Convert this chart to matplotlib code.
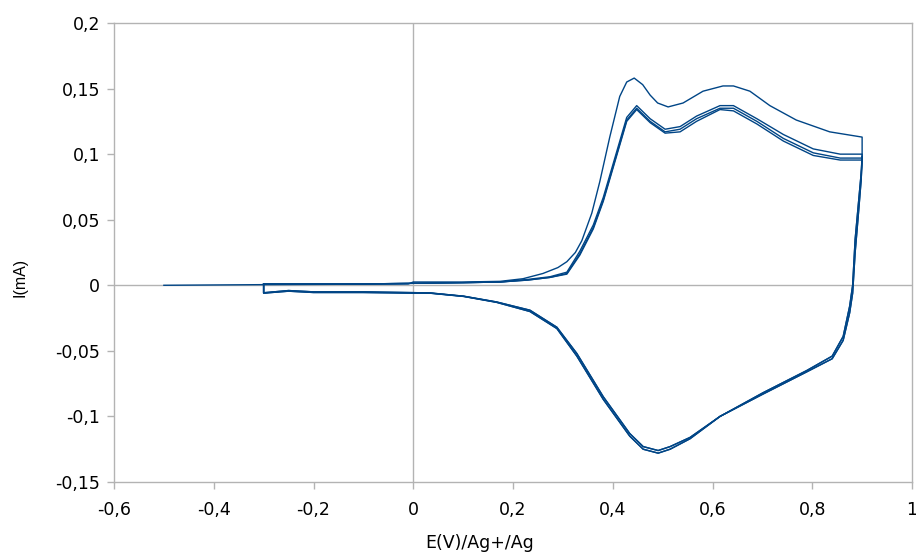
import matplotlib
matplotlib.use("Agg")
import matplotlib.pyplot as plt
from matplotlib.ticker import FuncFormatter

plt.rcParams['font.family'] = ['DejaVu Sans']

# ---- data ----
# first anodic sweep (starts at -0.5 V)
E_fwd1 = [-0.5, -0.3, -0.01, 0.0, 0.1, 0.174, 0.22, 0.26, 0.29, 0.308, 0.325, 0.338, 0.358,
          0.374, 0.394, 0.414, 0.428, 0.443, 0.46, 0.475, 0.49, 0.511, 0.541, 0.581, 0.621,
          0.642, 0.675, 0.715, 0.768, 0.835, 0.9, 0.9]
I_fwd1 = [0.0, 0.0005, 0.001, 0.0025, 0.0025, 0.003, 0.005, 0.009, 0.0135, 0.018, 0.025, 0.034, 0.055,
          0.079, 0.113, 0.144, 0.155, 0.158, 0.153, 0.145, 0.139, 0.136, 0.139, 0.148, 0.152,
          0.152, 0.148, 0.137, 0.126, 0.117, 0.113, 0.098]

# later anodic sweeps (start at -0.3 V)
E_fwd = [-0.3, -0.1, 0.0, 0.1, 0.174, 0.23, 0.274, 0.308, 0.334, 0.361, 0.381, 0.408, 0.428,
         0.448, 0.475, 0.505, 0.535, 0.568, 0.615, 0.642, 0.689, 0.742, 0.802, 0.856, 0.9, 0.9]
I_fwd2 = [0.001, 0.001, 0.0015, 0.002, 0.0025, 0.0045, 0.0065, 0.010, 0.026, 0.046, 0.067, 0.102, 0.128,
          0.137, 0.127, 0.119, 0.121, 0.129, 0.137, 0.137, 0.127, 0.115, 0.104, 0.100, 0.100, 0.095]
I_fwd3 = [0.001, 0.001, 0.0015, 0.002, 0.0025, 0.004, 0.006, 0.009, 0.024, 0.044, 0.065, 0.100, 0.126,
          0.135, 0.125, 0.117, 0.119, 0.127, 0.135, 0.135, 0.125, 0.112, 0.101, 0.097, 0.097, 0.095]
I_fwd4 = [0.001, 0.001, 0.0015, 0.002, 0.0025, 0.004, 0.006, 0.0085, 0.023, 0.043, 0.064, 0.099, 0.125,
          0.134, 0.124, 0.116, 0.117, 0.125, 0.134, 0.133, 0.123, 0.110, 0.099, 0.0955, 0.0955, 0.095]

# cathodic sweeps (0.9 V back to -0.3 V)
E_rev = [0.9, 0.898, 0.892, 0.886, 0.881, 0.875, 0.862, 0.84, 0.789, 0.701, 0.615, 0.555,
         0.515, 0.491, 0.461, 0.434, 0.381, 0.328, 0.288, 0.234, 0.167, 0.101, 0.033, 0.0,
         -0.1, -0.2, -0.25, -0.3, -0.3]
I_rev_a = [0.098, 0.085, 0.06, 0.035, 0.0, -0.016, -0.039, -0.054, -0.065, -0.082, -0.100, -0.116,
           -0.123, -0.126, -0.123, -0.113, -0.085, -0.052, -0.032, -0.019, -0.0127, -0.0083, -0.0058, -0.0056,
           -0.005, -0.005, -0.004, -0.0057, 0.001]
I_rev_b = [0.095, 0.080, 0.052, 0.025, -0.006, -0.021, -0.042, -0.056, -0.066, -0.083, -0.100, -0.117,
           -0.125, -0.128, -0.125, -0.115, -0.087, -0.054, -0.033, -0.020, -0.013, -0.0085, -0.006, -0.006,
           -0.0055, -0.0055, -0.0045, -0.006, 0.001]

x_ticks = [-0.6, -0.4, -0.2, 0, 0.2, 0.4, 0.6, 0.8, 1]
y_ticks = [-0.15, -0.1, -0.05, 0, 0.05, 0.1, 0.15, 0.2]

line_color = '#004586'
grid_color = '#b3b3b3'

fig = plt.figure(figsize=(9.16, 5.52), dpi=100)
ax = fig.add_axes([114 / 916, 1 - 482 / 552, (912 - 114) / 916, (482 - 23) / 552])

ax.axvline(0, color=grid_color, lw=1, zorder=1)
ax.axhline(0, color=grid_color, lw=1, zorder=1)

kw = dict(color=line_color, lw=1.0, zorder=3)
ax.plot(E_fwd1, I_fwd1, **kw)
ax.plot(E_rev, I_rev_a, **kw)
ax.plot(E_fwd, I_fwd2, **kw)
ax.plot(E_rev, I_rev_b, **kw)
ax.plot(E_fwd, I_fwd3, **kw)
ax.plot(E_rev, I_rev_a, **kw)
ax.plot(E_fwd, I_fwd4, **kw)
ax.plot(E_rev, I_rev_b, **kw)

ax.set_xlim(-0.6, 1.0)
ax.set_ylim(-0.15, 0.2)
ax.set_xticks(x_ticks)
ax.set_yticks(y_ticks)


def comma(v, pos):
    s = ('%.2f' % v).rstrip('0').rstrip('.')
    if s in ('-0', ''):
        s = '0'
    return s.replace('.', ',')


ax.xaxis.set_major_formatter(FuncFormatter(comma))
ax.yaxis.set_major_formatter(FuncFormatter(comma))

for sp in ax.spines.values():
    sp.set_color(grid_color)
    sp.set_linewidth(1.0)
ax.tick_params(axis='both', which='major', direction='out', length=5, width=1,
               color=grid_color, labelsize=12.5, labelcolor='black', pad=5)
ax.tick_params(axis='x', pad=9)

fig.text(480 / 916, 1 - 543 / 552, 'E(V)/Ag+/Ag', ha='center', va='center', fontsize=12.5)
fig.text(20 / 916, 1 - 277 / 552, 'I(mA)', ha='center', va='center', rotation=90,
         fontsize=11.5, family=['Liberation Sans', 'DejaVu Sans'])

fig.savefig('out.png', dpi=100)
